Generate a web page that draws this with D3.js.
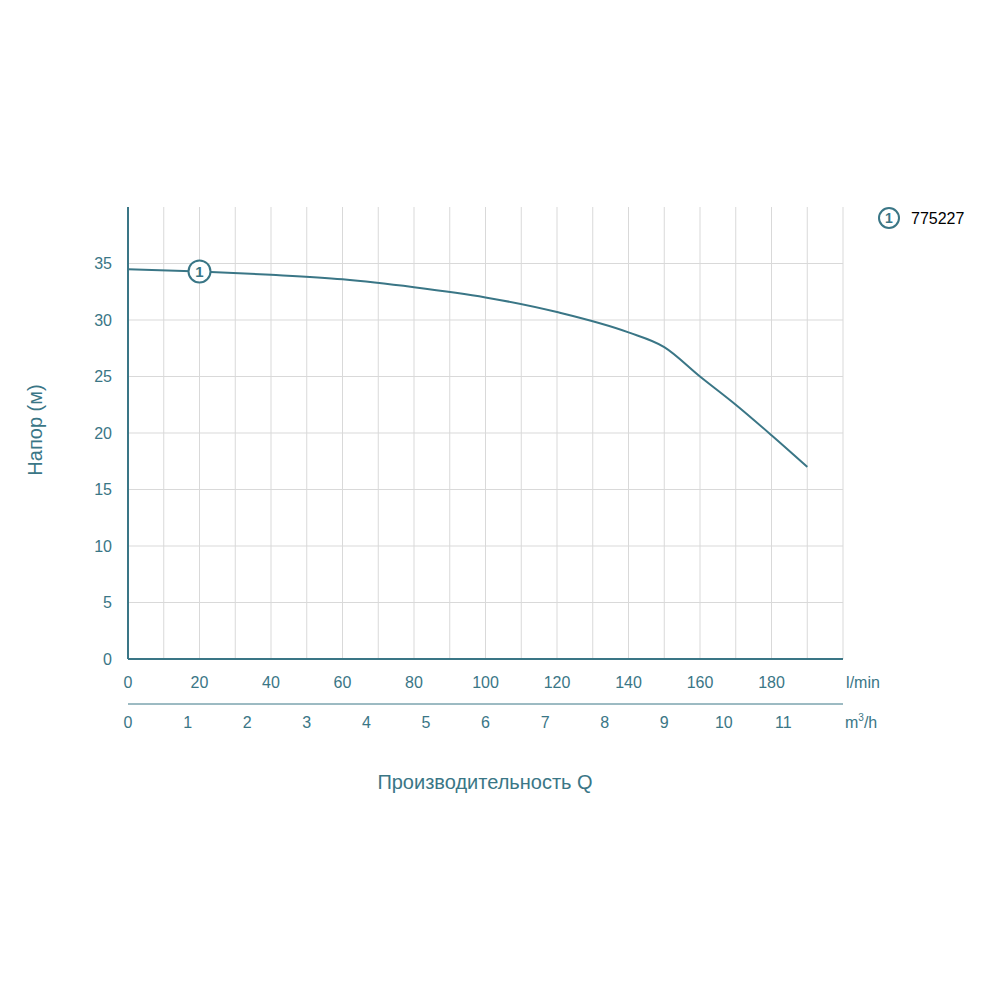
<!DOCTYPE html>
<html><head><meta charset="utf-8">
<script src="https://cdn.jsdelivr.net/npm/d3@7"></script>
<style>body{margin:0;background:#fff}text{font-family:"Liberation Sans",Arial,sans-serif}</style>
</head><body><svg id="c" width="1000" height="1000"></svg>
<script>
const flowLpm = [0, 20, 40, 60, 80, 100, 120, 140, 150, 160, 170, 180, 190];
const headM = [34.5, 34.3, 34.0, 33.6, 32.9, 32.0, 30.7, 28.9, 27.6, 25.0, 22.5, 19.8, 17.0];
const lpmTicks = [0, 20, 40, 60, 80, 100, 120, 140, 160, 180];
const m3hTicks = [0, 1, 2, 3, 4, 5, 6, 7, 8, 9, 10, 11];
const headTicks = [0, 5, 10, 15, 20, 25, 30, 35];
const seriesLabel = '775227';

const teal = '#3a7686', grid = '#d9d9d9';
const svg = d3.select('#c');
const x = d3.scaleLinear().domain([0, 200]).range([128, 843]);
const xm = d3.scaleLinear().domain([0, 12]).range([128, 843]);
const y = d3.scaleLinear().domain([0, 40]).range([659, 207]);

// grid
svg.append('g').selectAll('line').data(d3.range(10, 201, 10)).join('line')
  .attr('x1', d => x(d)).attr('x2', d => x(d)).attr('y1', y(0)).attr('y2', y(40))
  .attr('stroke', grid);
svg.append('g').selectAll('line').data(headTicks.slice(1)).join('line')
  .attr('x1', x(0)).attr('x2', x(200)).attr('y1', d => y(d)).attr('y2', d => y(d))
  .attr('stroke', grid);

// axes
svg.append('line').attr('x1', x(0)).attr('x2', x(0)).attr('y1', y(0)).attr('y2', y(40)).attr('stroke', teal).attr('stroke-width', 2);
svg.append('line').attr('x1', x(0)).attr('x2', x(200)).attr('y1', y(0)).attr('y2', y(0)).attr('stroke', teal).attr('stroke-width', 2);
svg.append('line').attr('x1', xm(0)).attr('x2', xm(12)).attr('y1', 704).attr('y2', 704).attr('stroke', teal).attr('stroke-width', 1);

const lab = { fill: teal, 'font-size': 16 };
svg.append('g').selectAll('text').data(headTicks).join('text')
  .attr('x', 112).attr('y', d => y(d)).attr('dy', '0.35em').attr('text-anchor', 'end')
  .attr('fill', teal).attr('font-size', 16).text(d => d);
svg.append('g').selectAll('text').data(lpmTicks).join('text')
  .attr('x', d => x(d)).attr('y', 688).attr('text-anchor', 'middle')
  .attr('fill', teal).attr('font-size', 16).text(d => d);
svg.append('text').attr('x', 863).attr('y', 688).attr('text-anchor', 'middle').attr('fill', teal).attr('font-size', 16).text('l/min');
svg.append('g').selectAll('text').data(m3hTicks).join('text')
  .attr('x', d => xm(d)).attr('y', 728).attr('text-anchor', 'middle')
  .attr('fill', teal).attr('font-size', 16).text(d => d);
const mt = svg.append('text').attr('x', 845).attr('y', 728).attr('fill', teal).attr('font-size', 16);
mt.append('tspan').text('m');
mt.append('tspan').attr('font-size', 10).attr('dy', -7).text('3');
mt.append('tspan').attr('dy', 7).text('/h');

svg.append('text').attr('transform', 'translate(42,430) rotate(-90)').attr('text-anchor', 'middle')
  .attr('fill', teal).attr('font-size', 20).text('Напор (м)');
svg.append('text').attr('x', 485).attr('y', 789).attr('text-anchor', 'middle')
  .attr('fill', teal).attr('font-size', 20).text('Производительность Q');

// curve
const pts = flowLpm.map((f, i) => [f, headM[i]]);
svg.append('path').datum(pts)
  .attr('d', d3.line().x(d => x(d[0])).y(d => y(d[1])).curve(d3.curveMonotoneX))
  .attr('fill', 'none').attr('stroke', teal).attr('stroke-width', 2);

// marker
const mk = svg.append('g').attr('transform', `translate(${x(flowLpm[1])},${y(headM[1])})`);
mk.append('circle').attr('r', 11).attr('fill', '#fff').attr('stroke', teal).attr('stroke-width', 2);
mk.append('text').attr('text-anchor', 'middle').attr('dy', '0.36em').attr('font-size', 15).attr('font-weight', 'bold').attr('fill', teal).text('1');

// legend
const lg = svg.append('g').attr('transform', 'translate(889,218)');
lg.append('circle').attr('r', 10).attr('fill', '#fff').attr('stroke', teal).attr('stroke-width', 2);
lg.append('text').attr('text-anchor', 'middle').attr('dy', '0.36em').attr('font-size', 14).attr('font-weight', 'bold').attr('fill', teal).text('1');
lg.append('text').attr('x', 22).attr('dy', '0.36em').attr('font-size', 16).attr('fill', '#000').text(seriesLabel);
</script></body></html>
